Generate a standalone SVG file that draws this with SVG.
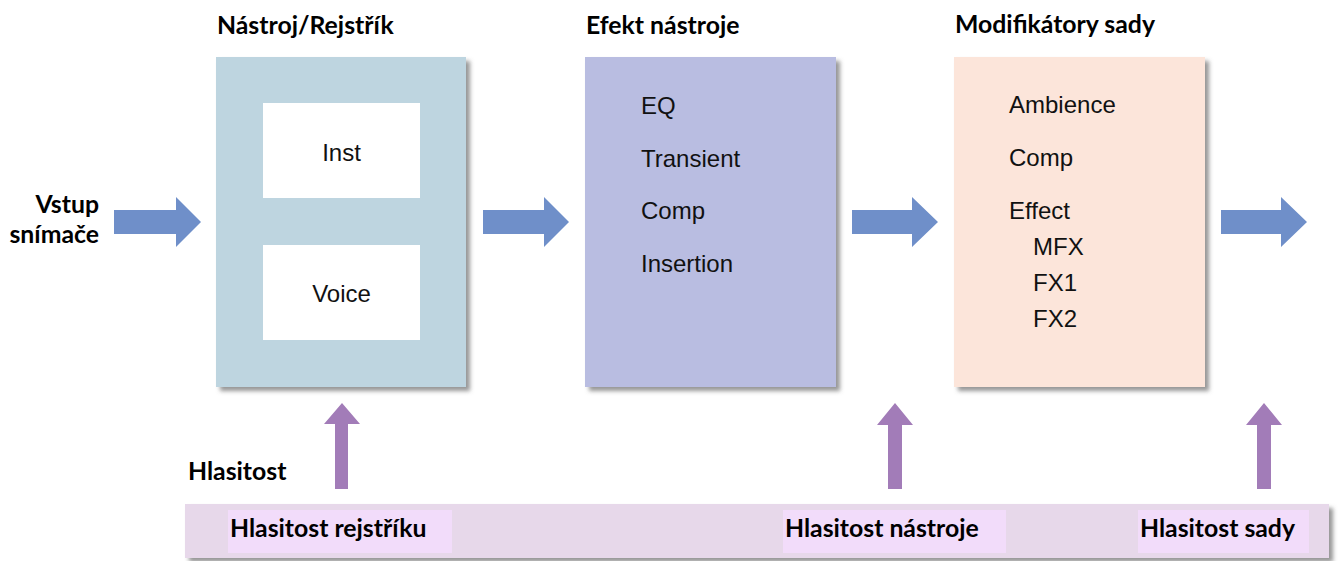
<svg xmlns="http://www.w3.org/2000/svg" width="1344" height="561" viewBox="0 0 1344 561">
<defs>
<filter id="sh" x="-10%" y="-10%" width="125%" height="125%">
<feDropShadow dx="4" dy="4" stdDeviation="2" flood-color="#6b6b6b" flood-opacity="0.7"/>
</filter>
<style>
.t{font-family:"Liberation Sans",Arial,sans-serif;font-size:24px;fill:#111}
.b{font-family:Lato,"Open Sans",sans-serif;font-weight:bold;font-size:24.8px;fill:#000}
.ba{fill:#6f8fc9}
.pa{fill:#a27cb8}
.lb{fill:#f2dcfa}
</style>
</defs>
<rect width="1344" height="561" fill="#fff"/>

<g id="titles">
<text class="b" x="217" y="34">Nástroj/Rejstřík</text>
<text class="b" x="586" y="34">Efekt nástroje</text>
<text class="b" x="955" y="33">Modifikátory sady</text>
</g>

<g id="input">
<text class="b" x="99" y="213" text-anchor="end">Vstup</text>
<text class="b" x="99" y="243" text-anchor="end">snímače</text>
</g>

<g id="node-instrument">
<rect x="216" y="57" width="250" height="330" fill="#bed5e0" filter="url(#sh)"/>
<rect x="263" y="103" width="157" height="95" fill="#fff"/>
<text class="t" x="341.5" y="161" text-anchor="middle">Inst</text>
<rect x="263" y="245" width="157" height="95" fill="#fff"/>
<text class="t" x="341.5" y="302" text-anchor="middle">Voice</text>
</g>

<g id="node-effect">
<rect x="585" y="57" width="251" height="330" fill="#b9bde1" filter="url(#sh)"/>
<text class="t" x="641" y="114">EQ</text>
<text class="t" x="641" y="167">Transient</text>
<text class="t" x="641" y="219">Comp</text>
<text class="t" x="641" y="272">Insertion</text>
</g>

<g id="node-kit">
<rect x="954" y="57" width="251" height="330" fill="#fce5da" filter="url(#sh)"/>
<text class="t" x="1009" y="113">Ambience</text>
<text class="t" x="1009" y="166">Comp</text>
<text class="t" x="1009" y="219">Effect</text>
<text class="t" x="1033" y="255">MFX</text>
<text class="t" x="1033" y="291">FX1</text>
<text class="t" x="1033" y="327">FX2</text>
</g>

<g id="node-volume">
<rect x="185" y="504" width="1144" height="54" fill="#e7d8ea" filter="url(#sh)"/>
<text class="b" x="188" y="480">Hlasitost</text>
<rect class="lb" x="228" y="510" width="224" height="43"/>
<text class="b" x="230" y="537">Hlasitost rejstříku</text>
<rect class="lb" x="783" y="510" width="223" height="43"/>
<text class="b" x="785" y="537">Hlasitost nástroje</text>
<rect class="lb" x="1138" y="510" width="171" height="43"/>
<text class="b" x="1140" y="537">Hlasitost sady</text>
</g>

<g id="connectors">
<polygon class="ba" points="114,210 176,210 176,197 201,222 176,247 176,234 114,234"/>
<polygon class="ba" points="483,210 544,210 544,197 569,222 544,247 544,234 483,234"/>
<polygon class="ba" points="852,210 912,210 912,197 938,222 912,247 912,234 852,234"/>
<polygon class="ba" points="1221,210 1281,210 1281,197 1307,222 1281,247 1281,234 1221,234"/>
<polygon class="pa" points="335,489 335,424 324,424 342,403 360,424 348,424 348,489"/>
<polygon class="pa" points="888,489 888,425 877,425 895,403 913,425 902,425 902,489"/>
<polygon class="pa" points="1257,489 1257,425 1246,425 1264,403 1282,425 1271,425 1271,489"/>
</g>
</svg>
